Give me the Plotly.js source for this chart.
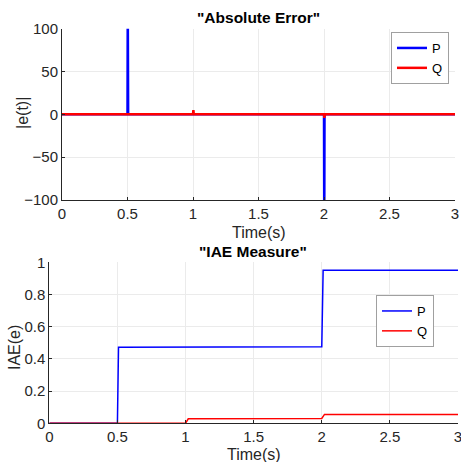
<!DOCTYPE html>
<html><head><meta charset="utf-8">
<script src="https://cdn.plot.ly/plotly-3.0.1.min.js"></script>
<style>html,body{margin:0;padding:0;background:#fff}</style>
</head><body>
<div id="plot" style="width:461px;height:462px"></div>
<script>
// Absolute error (top)
const tErrP = [0, 0.5, 0.502, 0.505, 2.0, 2.002, 2.004, 3];
const errP  = [0, 0, 130, 0, 0, -130, 0, 0];
const tErrQ = [0, 1.0, 1.003, 1.006, 2.0, 2.003, 2.006, 3];
const errQ  = [0, 0, 5, 0, 0, -4, 0, 0];
// IAE measure (bottom)
const tIaeP = [0, 0.5, 0.508, 1.0, 2.0, 2.01, 3];
const iaeP  = [0, 0, 0.472, 0.473, 0.475, 0.95, 0.95];
const tIaeQ = [0, 1.0, 1.02, 2.0, 2.02, 3];
const iaeQ  = [0, 0, 0.028, 0.03, 0.055, 0.055];
const xTicks = [0, 0.5, 1, 1.5, 2, 2.5, 3];
const xTickText = ['0', '0.5', '1', '1.5', '2', '2.5', '3'];
const yTicksTop = [-100, -50, 0, 50, 100];
const yTicksBot = [0, 0.2, 0.4, 0.6, 0.8, 1];
const yTicksBotText = ['0', '0.2', '0.4', '0.6', '0.8', '1'];

const W = 461, H = 462;
const px = v => v / W, py = v => 1 - v / H;
const fam = 'Liberation Sans, Arial, sans-serif';
const tickFont = {family: fam, size: 15, color: '#262626'};
const axBase = {showgrid: true, gridcolor: '#ebebeb', zeroline: false, showline: true,
  linecolor: '#262626', linewidth: 1, ticks: 'inside', ticklen: 3, tickcolor: '#262626',
  tickfont: tickFont, mirror: false, automargin: false, ticklabeloverflow: 'allow'};

const traces = [
  {x: tErrP, y: errP, name: 'P', mode: 'lines', line: {color: '#0000ff', width: 2.5}, xaxis: 'x', yaxis: 'y', legend: 'legend'},
  {x: tErrQ, y: errQ, name: 'Q', mode: 'lines', line: {color: '#ff0000', width: 2.5}, xaxis: 'x', yaxis: 'y', legend: 'legend'},
  {x: tIaeP, y: iaeP, name: 'P', mode: 'lines', line: {color: '#0000ff', width: 1.5}, xaxis: 'x2', yaxis: 'y2', legend: 'legend2'},
  {x: tIaeQ, y: iaeQ, name: 'Q', mode: 'lines', line: {color: '#ff0000', width: 1.5}, xaxis: 'x2', yaxis: 'y2', legend: 'legend2'}
];

const legBase = {xanchor: 'right', yanchor: 'top', bgcolor: '#fff', bordercolor: '#a0a0a0', borderwidth: 1,
  font: {family: fam, size: 13, color: '#000'}, itemwidth: 30, tracegroupgap: 0, itemclick: false};

const titleFont = {family: fam, size: 16, color: '#262626'};
const layout = {
  width: W, height: H,
  margin: {l: 0, r: 0, t: 0, b: 0, autoexpand: false},
  paper_bgcolor: '#fff', plot_bgcolor: '#fff',
  font: {family: fam, color: '#262626'},
  showlegend: true,
  xaxis: Object.assign({}, axBase, {domain: [px(62), px(455)], range: [0, 3], tickvals: xTicks, ticktext: xTickText, anchor: 'y'}),
  yaxis: Object.assign({}, axBase, {domain: [py(200), py(28.7)], range: [-100, 100], tickvals: yTicksTop, anchor: 'x'}),
  xaxis2: Object.assign({}, axBase, {domain: [px(49.3), px(458)], range: [0, 3], tickvals: xTicks, ticktext: xTickText, anchor: 'y2'}),
  yaxis2: Object.assign({}, axBase, {domain: [py(423.3), py(262.3)], range: [0, 1], tickvals: yTicksBot, ticktext: yTicksBotText, anchor: 'x2'}),
  legend: Object.assign({}, legBase, {x: px(449), y: py(32)}),
  legend2: Object.assign({}, legBase, {x: px(434), y: py(295)}),
  annotations: [
    {text: '<b>"Absolute Error"</b>', xref: 'paper', yref: 'paper', x: px(258), y: py(17), xanchor: 'center', yanchor: 'middle', showarrow: false, font: {family: fam, size: 15.5, color: '#000'}},
    {text: '<b>"IAE Measure"</b>', xref: 'paper', yref: 'paper', x: px(253), y: py(252), xanchor: 'center', yanchor: 'middle', showarrow: false, font: {family: fam, size: 15.5, color: '#000'}},
    {text: 'Time(s)', xref: 'paper', yref: 'paper', x: px(258.5), y: py(232.5), xanchor: 'center', yanchor: 'middle', showarrow: false, font: titleFont},
    {text: 'Time(s)', xref: 'paper', yref: 'paper', x: px(254.5), y: py(454), xanchor: 'center', yanchor: 'middle', showarrow: false, font: titleFont},
    {text: '|e(t)|', xref: 'paper', yref: 'paper', x: px(22), y: py(113), xanchor: 'center', yanchor: 'middle', showarrow: false, textangle: -90, font: titleFont},
    {text: 'IAE(e)', xref: 'paper', yref: 'paper', x: px(14), y: py(348), xanchor: 'center', yanchor: 'middle', showarrow: false, textangle: -90, font: titleFont}
  ]
};

Plotly.newPlot('plot', traces, layout, {displayModeBar: false, staticPlot: true});
</script>
</body></html>
